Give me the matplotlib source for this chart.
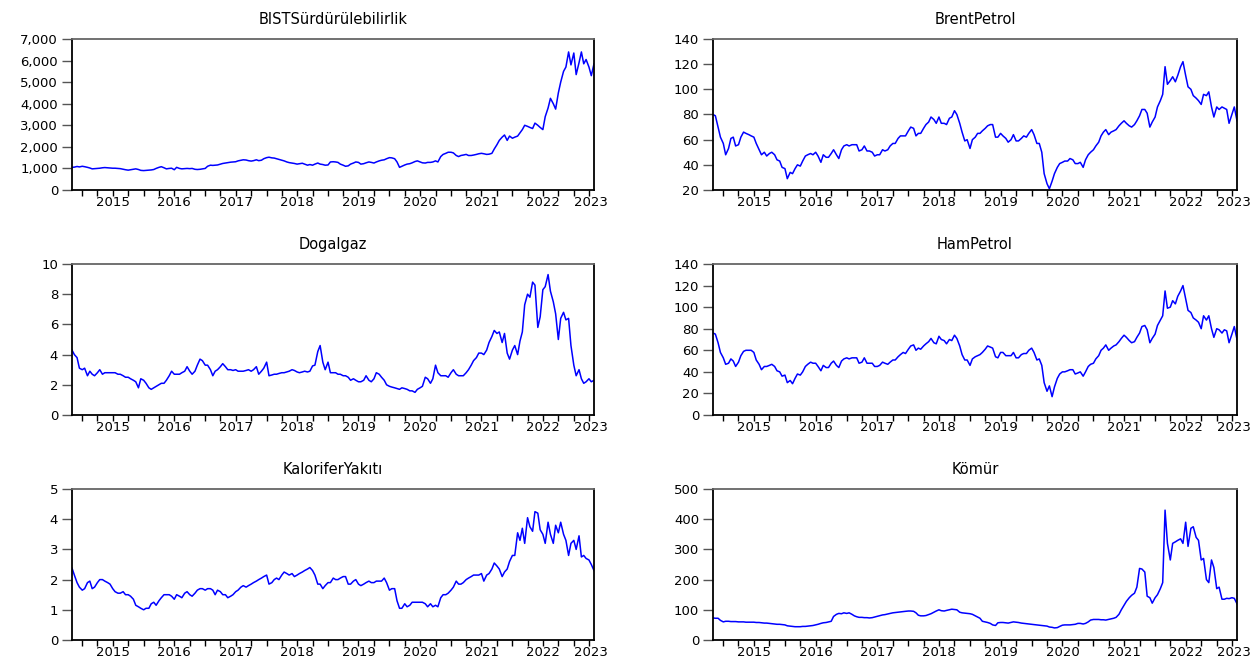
import pandas as pd
import matplotlib
matplotlib.use("Agg")
import matplotlib.pyplot as plt
from matplotlib.ticker import FuncFormatter

# semi-monthly observation dates (1st and 15th), Nov 2014 - May 2023
months = pd.date_range("2014-11-01", "2023-04-01", freq="MS")
dates = []
for m in months:
    dates += [m, m + pd.Timedelta(days=14)]
dates.append(pd.Timestamp("2023-05-01"))

bist = [1050, 1060, 1090, 1070,
        1100, 1080, 1050, 1020, 980, 990, 1000, 1010, 1030, 1040, 1030, 1020, 1010, 1010, 1000, 990, 960, 940, 920, 940, 960, 980, 950, 910,
        900, 910, 920, 930, 950, 1000, 1050, 1080, 1030, 980, 1000, 1010, 940, 1050, 1000, 980, 990, 1000, 990, 1000, 960, 950, 960, 980,
        1000, 1100, 1150, 1140, 1150, 1160, 1200, 1230, 1250, 1270, 1290, 1300, 1310, 1350, 1380, 1400, 1390, 1360, 1340, 1360, 1400, 1360, 1380, 1450,
        1500, 1520, 1490, 1480, 1450, 1420, 1380, 1350, 1300, 1270, 1250, 1230, 1200, 1220, 1240, 1200, 1150, 1180, 1150, 1200, 1250, 1200, 1180, 1150,
        1160, 1300, 1310, 1300, 1280, 1200, 1150, 1100, 1120, 1200, 1250, 1300, 1280, 1200, 1220, 1260, 1300, 1280, 1250, 1300, 1350, 1380, 1400, 1450,
        1500, 1490, 1450, 1300, 1050, 1100, 1160, 1200, 1220, 1260, 1320, 1350, 1300, 1260, 1250, 1280, 1280, 1300, 1350, 1300, 1550, 1650, 1700, 1750,
        1750, 1720, 1600, 1550, 1600, 1620, 1650, 1600, 1600, 1620, 1650, 1680, 1700, 1680, 1650, 1660, 1700, 1900, 2100, 2300, 2450, 2550, 2300, 2500,
        2400, 2450, 2500, 2650, 2800, 3000, 2950, 2900, 2850, 3100, 3000, 2900, 2800, 3400, 3800, 4250, 4000, 3750, 4500, 5000, 5500, 5700, 6400, 5800,
        6350, 5350, 5900, 6400, 5850, 6050, 5700, 5300, 5850]

brent = [80, 79, 70, 62,
         57, 48, 53, 61, 62, 55, 56, 62, 66, 65, 64, 63, 62, 57, 52, 48, 50, 47, 49, 50, 48, 44, 43, 38,
         37, 29, 34, 33, 37, 40, 39, 43, 47, 48, 49, 48, 50, 47, 42, 48, 46, 46, 49, 52, 48, 45, 52, 55,
         56, 55, 56, 56, 56, 51, 52, 55, 51, 51, 50, 47, 48, 48, 52, 51, 52, 55, 57, 57, 61, 63, 63, 63,
         67, 70, 69, 63, 65, 65, 69, 72, 74, 78, 76, 73, 78, 73, 73, 72, 77, 78, 83, 80, 73, 66, 59, 60,
         53, 60, 62, 65, 65, 67, 69, 71, 72, 72, 62, 62, 65, 63, 61, 58, 60, 64, 59, 59, 61, 63, 62, 65,
         68, 64, 57, 57, 50, 33, 25, 21, 27, 33, 38, 41, 42, 43, 43, 45, 44, 41, 41, 42, 38, 44, 48, 50,
         52, 55, 58, 63, 66, 68, 64, 66, 67, 68, 71, 73, 75, 73, 71, 70, 72, 75, 79, 84, 84, 81, 70, 74,
         78, 86, 91, 96, 118, 104, 107, 110, 106, 111, 118, 122, 111, 102, 100, 95, 93, 91, 88, 96, 95, 98, 86, 78,
         86, 84, 86, 85, 84, 73, 80, 86, 75]

dogalgaz = [4.3, 4.0, 3.8, 3.1,
            3.0, 3.1, 2.6, 2.9, 2.7, 2.6, 2.8, 3.0, 2.7, 2.8, 2.8, 2.8, 2.8, 2.8, 2.7, 2.7, 2.6, 2.5, 2.5, 2.4, 2.3, 2.2, 1.8, 2.4,
            2.3, 2.1, 1.8, 1.7, 1.8, 1.9, 2.0, 2.1, 2.1, 2.3, 2.6, 2.9, 2.7, 2.7, 2.7, 2.8, 2.9, 3.2, 2.9, 2.7, 2.9, 3.3, 3.7, 3.6,
            3.3, 3.3, 3.0, 2.6, 2.9, 3.0, 3.2, 3.4, 3.2, 3.0, 3.0, 2.95, 3.0, 2.9, 2.9, 2.9, 2.95, 3.0, 2.9, 3.0, 3.2, 2.7, 2.9, 3.1,
            3.5, 2.6, 2.65, 2.7, 2.7, 2.75, 2.8, 2.8, 2.85, 2.9, 3.0, 2.95, 2.85, 2.8, 2.85, 2.9, 2.85, 2.9, 3.25, 3.3, 4.2, 4.6, 3.5, 3.0,
            3.5, 2.8, 2.8, 2.8, 2.7, 2.7, 2.6, 2.6, 2.5, 2.3, 2.4, 2.3, 2.2, 2.2, 2.3, 2.6, 2.3, 2.2, 2.4, 2.8, 2.7, 2.5, 2.3, 2.0,
            1.9, 1.85, 1.8, 1.75, 1.7, 1.8, 1.75, 1.7, 1.6, 1.6, 1.5, 1.7, 1.8, 1.9, 2.5, 2.4, 2.1, 2.4, 3.3, 2.8, 2.6, 2.6, 2.6, 2.5,
            2.8, 3.0, 2.7, 2.6, 2.6, 2.6, 2.8, 3.0, 3.3, 3.6, 3.8, 4.1, 4.1, 4.0, 4.3, 4.8, 5.2, 5.6, 5.4, 5.5, 4.8, 5.4, 4.1, 3.7,
            4.3, 4.6, 4.0, 4.9, 5.5, 7.3, 8.0, 7.8, 8.8, 8.6, 5.8, 6.5, 8.3, 8.5, 9.3, 8.2, 7.5, 6.7, 5.0, 6.4, 6.8, 6.3, 6.4, 4.6,
            3.3, 2.6, 3.0, 2.4, 2.1, 2.2, 2.4, 2.2, 2.3]

hampetrol = [76, 75, 67, 58,
             53, 47, 48, 52, 50, 45, 49, 55, 59, 60, 60, 60, 58, 51, 47, 42, 45, 45, 46, 47, 45, 41, 40, 36,
             37, 30, 32, 29, 34, 38, 37, 40, 45, 47, 49, 48, 48, 45, 41, 46, 44, 44, 48, 50, 46, 44, 50, 52,
             53, 52, 53, 53, 53, 48, 49, 53, 48, 48, 48, 45, 45, 46, 49, 48, 47, 49, 51, 51, 54, 56, 58, 57,
             61, 64, 65, 60, 62, 61, 64, 66, 68, 71, 67, 66, 73, 70, 69, 66, 70, 69, 74, 71, 64, 56, 51, 51,
             46, 52, 54, 55, 56, 58, 61, 64, 63, 62, 54, 53, 58, 58, 55, 55, 55, 58, 53, 53, 56, 57, 57, 60,
             62, 58, 51, 52, 46, 30, 22, 27, 17, 26, 34, 38, 40, 40, 41, 42, 42, 38, 39, 40, 36, 40, 45, 47,
             48, 52, 55, 60, 62, 65, 60, 62, 64, 65, 68, 71, 74, 72, 69, 67, 68, 72, 76, 82, 83, 79, 67, 71,
             75, 83, 88, 92, 115, 99, 100, 106, 103, 110, 115, 120, 108, 97, 95, 90, 88, 86, 80, 92, 88, 92, 80, 72,
             80, 79, 76, 79, 78, 67, 75, 82, 70]

kalorifer = [2.38, 2.15, 1.9, 1.75,
             1.65, 1.7, 1.9, 1.95, 1.7, 1.75, 1.9, 2.0, 2.0, 1.95, 1.9, 1.85, 1.7, 1.6, 1.55, 1.55, 1.6, 1.5, 1.5, 1.45, 1.35, 1.15, 1.1, 1.05,
             1.0, 1.05, 1.05, 1.2, 1.25, 1.15, 1.3, 1.4, 1.5, 1.5, 1.5, 1.45, 1.35, 1.5, 1.45, 1.4, 1.55, 1.6, 1.5, 1.45, 1.55, 1.65, 1.7, 1.7,
             1.65, 1.7, 1.7, 1.65, 1.5, 1.65, 1.6, 1.5, 1.5, 1.4, 1.45, 1.5, 1.6, 1.65, 1.75, 1.8, 1.75, 1.8, 1.85, 1.9, 1.95, 2.0, 2.05, 2.1,
             2.15, 1.85, 1.9, 2.0, 2.05, 2.0, 2.15, 2.25, 2.2, 2.15, 2.2, 2.1, 2.15, 2.2, 2.25, 2.3, 2.35, 2.4, 2.3, 2.15, 1.85, 1.85, 1.7, 1.8,
             1.9, 1.9, 2.05, 2.0, 2.0, 2.05, 2.1, 2.1, 1.85, 1.85, 1.95, 2.0, 1.85, 1.8, 1.85, 1.9, 1.95, 1.9, 1.9, 1.95, 1.95, 1.95, 2.05, 1.9,
             1.65, 1.7, 1.7, 1.3, 1.05, 1.05, 1.2, 1.1, 1.15, 1.25, 1.25, 1.25, 1.25, 1.25, 1.2, 1.1, 1.2, 1.1, 1.15, 1.1, 1.4, 1.5, 1.5, 1.55,
             1.65, 1.75, 1.95, 1.85, 1.85, 1.9, 2.0, 2.05, 2.1, 2.15, 2.15, 2.15, 2.2, 1.95, 2.15, 2.2, 2.35, 2.55, 2.45, 2.35, 2.1, 2.25, 2.35, 2.6,
             2.8, 2.8, 3.55, 3.3, 3.7, 3.2, 4.05, 3.75, 3.6, 4.25, 4.2, 3.65, 3.5, 3.2, 3.9, 3.5, 3.2, 3.8, 3.55, 3.9, 3.5, 3.3, 2.8, 3.2,
             3.3, 3.0, 3.45, 2.75, 2.8, 2.7, 2.65, 2.5, 2.3]

komur = [73, 72, 72, 65,
         60, 62, 62, 61, 61, 61, 60, 60, 60, 59, 59, 59, 59, 58, 58, 57, 56, 56, 55, 54, 53, 52, 52, 51,
         50, 47, 46, 45, 44, 44, 44, 45, 45, 46, 47, 48, 50, 52, 55, 57, 58, 60, 62, 78, 85, 88, 87, 90,
         88, 90, 85, 80, 77, 75, 75, 74, 74, 73, 74, 76, 78, 80, 83, 84, 86, 88, 90, 91, 92, 93, 94, 95,
         96, 96, 95, 90, 82, 80, 80, 81, 84, 87, 92, 96, 100, 97, 96, 98, 100, 102, 101, 100, 92, 90, 89, 88,
         87, 85, 80, 76, 72, 62, 60, 58, 55, 50, 48, 57, 58, 58, 57, 56, 58, 60, 59, 58, 56, 55, 54, 53,
         52, 51, 50, 49, 48, 47, 46, 43, 42, 40, 41, 45, 49, 50, 50, 50, 51, 52, 55, 55, 53, 55, 60, 66,
         68, 68, 68, 67, 67, 66, 68, 70, 72, 75, 85, 100, 115, 128, 140, 148, 155, 175, 237, 235, 225, 145, 140, 122,
         140, 150, 170, 190, 430, 320, 265, 320, 325, 330, 335, 320, 390, 310, 370, 375, 340, 330, 265, 270, 200, 190, 265, 240,
         170, 175, 135, 135, 138, 137, 140, 138, 120]

titles = ["BISTSürdürülebilirlik", "BrentPetrol", "Dogalgaz", "HamPetrol", "KaloriferYakıtı", "Kömür"]
series = [bist, brent, dogalgaz, hampetrol, kalorifer, komur]
ylims = [(0, 7000), (20, 140), (0, 10), (0, 140), (0, 5), (0, 500)]
ysteps = [1000, 20, 2, 20, 1, 100]
years = list(range(2015, 2024))

plt.rcParams["font.family"] = ["DejaVu Sans"]

fig = plt.figure(figsize=(12.57, 6.61), dpi=100)
W, H = 1257, 661
col_x = [(72, 594), (713, 1237)]
row_y = [(39, 190), (264, 415), (489, 640)]

quarters = pd.date_range("2015-01-01", "2023-04-01", freq="QS")
label_pos = [pd.Timestamp(f"{y}-07-01") for y in years[:-1]] + [pd.Timestamp("2023-04-10")]

for i, (title, vals) in enumerate(zip(titles, series)):
    r, c = divmod(i, 2)
    x0, x1 = col_x[c]
    y0, y1 = row_y[r]
    ax = fig.add_axes([x0 / W, 1 - y1 / H, (x1 - x0) / W, (y1 - y0) / H])
    ax.plot(dates, vals, color="#0000ff", lw=1.1)
    ax.set_xlim(dates[0], dates[-1])
    lo, hi = ylims[i]
    ax.set_ylim(lo, hi)
    ax.set_yticks(range(lo, hi + 1, ysteps[i]))
    if i == 0:
        ax.yaxis.set_major_formatter(FuncFormatter(lambda v, p: f"{v:,.0f}"))
    ax.xaxis.remove_overlapping_locs = False
    ax.set_xticks(quarters)
    ax.set_xticklabels([])
    ax.set_xticks(label_pos, minor=True)
    ax.set_xticklabels([str(y) for y in years], minor=True)
    ax.tick_params(axis="x", which="major", direction="out", length=4, width=1, color="black")
    ax.tick_params(axis="x", which="minor", length=0, pad=4, labelsize=9.5)
    ax.tick_params(axis="y", direction="out", length=7, width=1, color="#555555", pad=3, labelsize=9.5)
    for s in ["left", "bottom", "right"]:
        ax.spines[s].set_color("black")
        ax.spines[s].set_linewidth(1.3)
    ax.spines["top"].set_color("#666666")
    ax.spines["top"].set_linewidth(1.3)
    ax.set_title(title, fontsize=10.5, pad=11)

fig.savefig("out.png", dpi=100)
